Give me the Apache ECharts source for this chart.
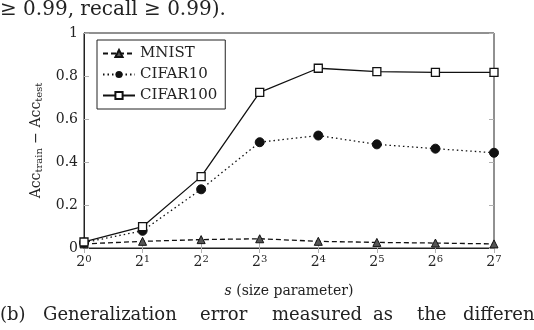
<!DOCTYPE html>
<html>
<head>
<meta charset="utf-8">
<script src="https://cdn.jsdelivr.net/npm/echarts@6/dist/echarts.min.js"></script>
<style>
  html, body { margin: 0; padding: 0; background: #fff; }
  #chart { width: 534px; height: 330px; }
</style>
</head>
<body>
<div id="chart"></div>
<script>
// x positions: s = 2^0 ... 2^7
const exponents = ['0', '1', '2', '3', '4', '5', '6', '7'];
const yTicks = [0, 0.2, 0.4, 0.6, 0.8, 1];

// Acc_train - Acc_test
const mnist = [0.019, 0.031, 0.039, 0.043, 0.031, 0.026, 0.023, 0.019];
const cifar10 = [0.025, 0.080, 0.273, 0.492, 0.523, 0.482, 0.462, 0.443];
const cifar100 = [0.028, 0.099, 0.332, 0.724, 0.836, 0.820, 0.817, 0.817];

const serif = '"DejaVu Serif", "Liberation Serif", serif';
const tickGray = '#b0b0b0';

// caption words sit justified across the line in the original
const captionWords = [
  ['(b)', 0], ['Generalization', 43], ['error', 200], ['measured', 272],
  ['as', 373], ['the', 417], ['difference', 463]
];

const chart = echarts.init(document.getElementById('chart'));

const graphics = [{
  type: 'text', left: 0, top: 0,
  style: { text: '\u2265 0.99, recall \u2265 0.99).', font: '20px ' + serif, fill: '#222' }
}];
captionWords.forEach(function (w) {
  graphics.push({
    type: 'text', left: w[1], top: 306,
    style: { text: w[0], font: '18px ' + serif, fill: '#222' }
  });
});

chart.setOption({
  animation: false,
  backgroundColor: '#fff',
  textStyle: { fontFamily: serif },
  graphic: graphics,
  grid: {
    left: 84, right: 40, top: 33, bottom: 82,
    show: true, borderColor: '#222', borderWidth: 1, backgroundColor: 'transparent'
  },
  legend: {
    orient: 'vertical',
    left: 97, top: 40,
    padding: [4, 8, 4, 5],
    itemGap: 2,
    itemWidth: 32, itemHeight: 9,
    backgroundColor: '#fff',
    borderColor: '#222', borderWidth: 1,
    textStyle: { fontFamily: serif, fontSize: 15, color: '#222', lineHeight: 19 },
    data: ['MNIST', 'CIFAR10', 'CIFAR100']
  },
  xAxis: [{
    type: 'category',
    data: exponents,
    boundaryGap: false,
    axisLine: { lineStyle: { color: '#222' } },
    axisTick: { inside: true, length: 5, interval: 0, lineStyle: { color: tickGray } },
    splitLine: { show: false },
    axisLabel: {
      margin: 6,
      interval: 0,
      formatter: function (v) { return '{b|2}{s|' + v + '}'; },
      rich: {
        b: { fontFamily: serif, fontSize: 14, color: '#222' },
        s: { fontFamily: serif, fontSize: 10, color: '#222', verticalAlign: 'bottom', padding: [0, 0, 7, 0] }
      }
    },
    name: '{i|s} (size parameter)',
    nameLocation: 'middle',
    nameGap: 36,
    nameTextStyle: {
      rich: {
        i: { fontFamily: serif, fontStyle: 'italic', fontSize: 14, color: '#222' }
      },
      fontFamily: serif, fontSize: 14, color: '#222'
    }
  }, {
    type: 'category',
    data: exponents,
    position: 'top',
    boundaryGap: false,
    axisLine: { show: false },
    axisTick: { inside: true, length: 5, interval: 0, lineStyle: { color: tickGray } },
    axisLabel: { show: false }
  }],
  yAxis: [{
    type: 'value',
    min: 0, max: 1, interval: 0.2,
    axisLine: { show: true, lineStyle: { color: '#222' } },
    axisTick: { show: true, inside: true, length: 5, lineStyle: { color: tickGray } },
    splitLine: { show: false },
    axisLabel: {
      margin: 6,
      fontFamily: serif, fontSize: 14, color: '#222',
      formatter: function (v) { return yTicks.indexOf(Math.round(v * 10) / 10) >= 0 ? String(Math.round(v * 10) / 10) : ''; }
    },
    name: 'Acc{s|train} \u2212 Acc{s|test}',
    nameLocation: 'middle',
    nameRotate: 90,
    nameGap: 37,
    nameTextStyle: {
      fontFamily: serif, fontSize: 14, color: '#222',
      rich: {
        s: { fontFamily: serif, fontSize: 10, color: '#222', verticalAlign: 'top', padding: [7, 0, 0, 0] }
      }
    }
  }, {
    type: 'value',
    position: 'right',
    min: 0, max: 1, interval: 0.2,
    axisLine: { show: false },
    axisTick: { show: true, inside: true, length: 5, lineStyle: { color: tickGray } },
    splitLine: { show: false },
    axisLabel: { show: false }
  }],
  series: [{
    name: 'MNIST',
    type: 'line',
    data: mnist,
    symbol: 'triangle',
    symbolSize: 8,
    itemStyle: { color: '#555', borderColor: '#111', borderWidth: 1 },
    lineStyle: { color: '#111', width: 1.3, type: [5, 3] }
  }, {
    name: 'CIFAR10',
    type: 'line',
    data: cifar10,
    symbol: 'circle',
    symbolSize: 9,
    itemStyle: { color: '#111', borderColor: '#111' },
    lineStyle: { color: '#111', width: 1.3, type: [1.5, 3] }
  }, {
    name: 'CIFAR100',
    type: 'line',
    data: cifar100,
    symbol: 'rect',
    symbolSize: 8,
    itemStyle: { color: '#fff', borderColor: '#111', borderWidth: 1.3 },
    lineStyle: { color: '#111', width: 1.3 }
  }]
});
</script>
</body>
</html>
